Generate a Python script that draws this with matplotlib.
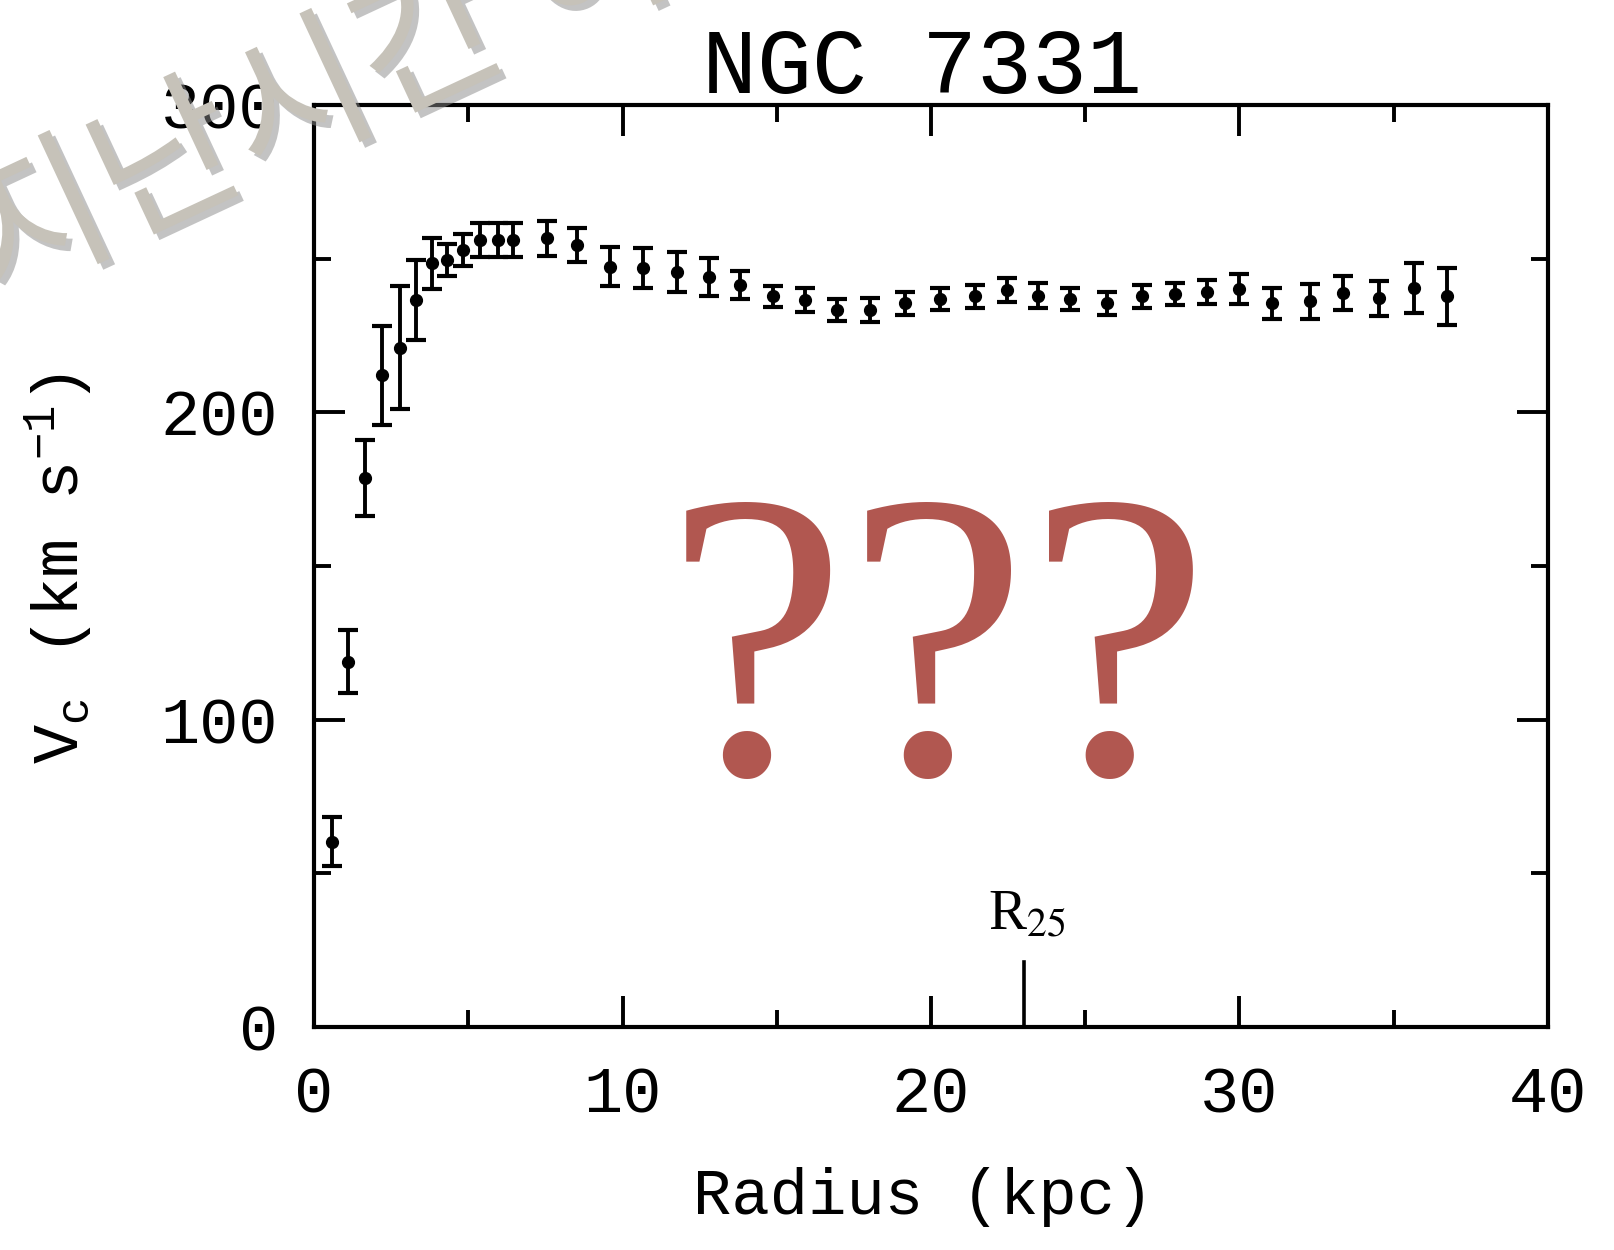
import numpy as np
import matplotlib
matplotlib.use("Agg")
from matplotlib import pyplot as plt
import matplotlib.patheffects as pe

plt.rcParams['mathtext.fontset'] = 'custom'
plt.rcParams['mathtext.rm'] = 'Liberation Mono'
plt.rcParams['mathtext.it'] = 'Liberation Mono'

# rotation curve of NGC 7331
radius = [0.57, 1.11, 1.65, 2.19, 2.79, 3.31, 3.81, 4.30, 4.82, 5.38,
          5.95, 6.45, 7.54, 8.51, 9.59, 10.67, 11.76, 12.81, 13.81, 14.89,
          15.92, 16.94, 18.02, 19.16, 20.29, 21.43, 22.45, 23.48, 24.51, 25.69,
          26.83, 27.91, 28.94, 29.99, 31.04, 32.29, 33.35, 34.52, 35.66, 36.73]
vc = [60.3, 118.9, 178.6, 212.0, 221.0, 236.6, 248.5, 249.6, 252.8, 256.2,
      256.2, 256.2, 256.6, 254.5, 247.4, 246.9, 245.8, 244.0, 241.5, 237.7,
      236.6, 233.3, 233.3, 235.5, 236.9, 237.7, 239.8, 238.0, 236.9, 235.5,
      237.7, 238.5, 239.2, 240.2, 235.5, 236.1, 238.8, 237.1, 240.4, 237.7]
vc_err = [7.9, 10.3, 12.4, 16.0, 20.0, 13.0, 8.3, 5.2, 5.2, 5.5,
          5.5, 5.5, 5.7, 5.5, 6.4, 6.5, 6.5, 6.2, 4.6, 3.4,
          3.8, 3.6, 3.8, 3.8, 3.5, 3.8, 3.8, 4.0, 3.5, 3.8,
          3.8, 3.5, 3.8, 4.9, 5.0, 5.7, 5.4, 5.7, 8.1, 9.2]
r25 = 23.0
x_ticks = [0, 10, 20, 30, 40]
y_ticks = [0, 100, 200, 300]

W, H = 1615, 1250
fig = plt.figure(figsize=(W / 100, H / 100), dpi=100)
ax = fig.add_axes([314 / W, 1 - 1027 / H, (1548 - 314) / W, (1027 - 105) / H])

ax.errorbar(radius, vc, yerr=vc_err, fmt='o', color='black', ms=8.5,
            elinewidth=2.8, capsize=7, capthick=3)

ax.set_xlim(0, 40)
ax.set_ylim(0, 300)
ax.set_xticks(x_ticks)
ax.set_yticks(y_ticks)
ax.set_xticks([5, 15, 25, 35], minor=True)
ax.set_yticks([50, 150, 250], minor=True)
ax.tick_params(which='both', direction='in', top=True, right=True, width=2.8)
ax.tick_params(which='major', length=22)
ax.tick_params(which='minor', length=12)
ax.tick_params(axis='x', which='major', pad=28)
ax.tick_params(axis='y', which='major', pad=26)
for lab in ax.get_xticklabels() + ax.get_yticklabels():
    lab.set_fontfamily('Liberation Mono')
    lab.set_fontsize(47)
for sp in ax.spines.values():
    sp.set_linewidth(3)

# R25 marker
ax.plot([r25, r25], [0, 21], color='black', lw=2.6)
ax.text(r25 + 0.1, 28, r"R$_{25}$", ha='center', va='bottom', fontsize=41,
        fontfamily='Liberation Serif', math_fontfamily='stix')

ax.set_xlabel("Radius (kpc)", fontsize=46, fontfamily='Liberation Mono', va='center')
ax.xaxis.set_label_coords(0.4935, -0.184)
ax.set_ylabel(r"V$_{\rm c}$ (km s$^{-1}$)", fontsize=47, fontfamily='Liberation Mono',
              math_fontfamily='custom', va='center')
ax.yaxis.set_label_coords(-0.207, 0.497)

fig.text(922 / W, 1 - 93 / H, "NGC 7331", ha='center', va='baseline',
         fontsize=66, fontfamily='Liberation Mono')

# big question marks
fig.text(938 / W, 1 - 773 / H, "???", ha='center', va='baseline', fontsize=295,
         fontfamily='Liberation Serif', color='#b15750')

# watermark
fig.text(-8 / W, 1 - 300 / H, "지난시간 이야기", ha='left', va='baseline',
         rotation=25, rotation_mode='anchor', fontsize=113,
         fontfamily='Noto Sans CJK KR', color='#c6c2b9', zorder=10,
         path_effects=[pe.withSimplePatchShadow(offset=(4, -4), shadow_rgbFace='#888888', alpha=0.5)])

fig.savefig('out.png', dpi=100)
